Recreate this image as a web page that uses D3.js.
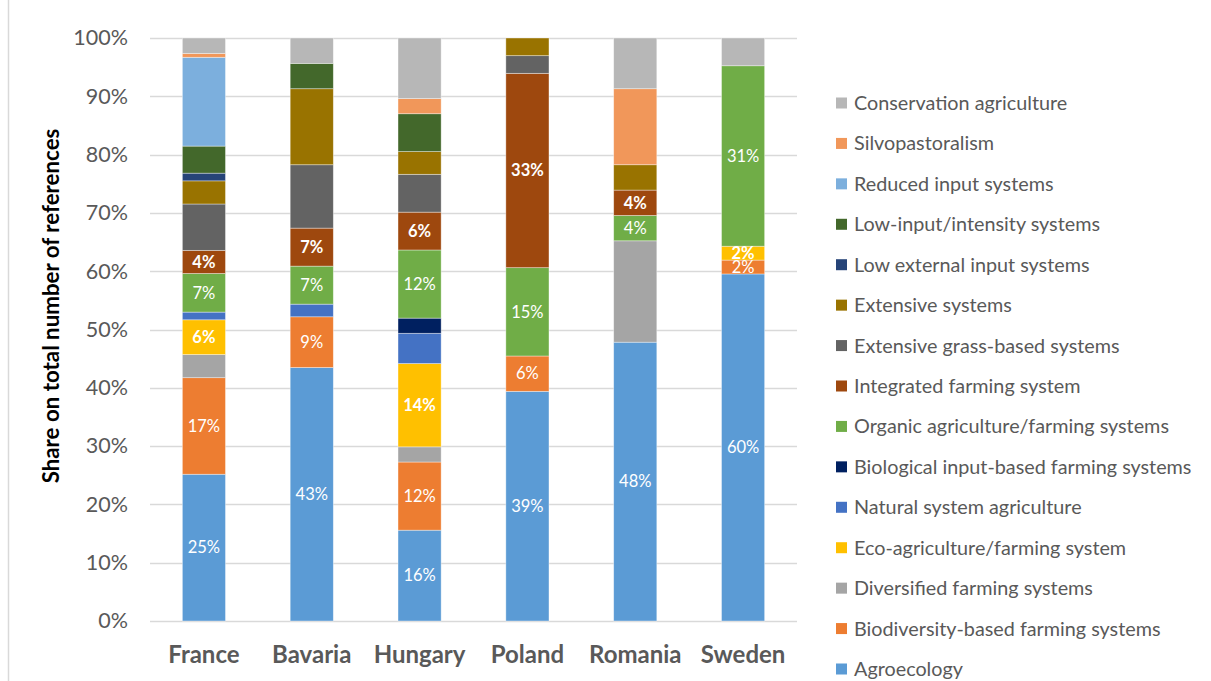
<!DOCTYPE html>
<html><head><meta charset="utf-8">
<script src="https://cdn.jsdelivr.net/npm/d3@7"></script>
<style>body{margin:0;background:#fff}svg{display:block}</style>
</head><body><svg id="c" width="1211" height="681"></svg>
<script>
// ---- data (share of references, %) ----
const categories = ["France", "Bavaria", "Hungary", "Poland", "Romania", "Sweden"];
const seriesNames = [
  "Agroecology", "Biodiversity-based farming systems", "Diversified farming systems",
  "Eco-agriculture/farming system", "Natural system agriculture", "Biological input-based farming systems",
  "Organic agriculture/farming systems", "Integrated farming system", "Extensive grass-based systems",
  "Extensive systems", "Low external input systems", "Low-input/intensity systems",
  "Reduced input systems", "Silvopastoralism", "Conservation agriculture"
];
const agroecology       = [25.17, 43.48, 15.58, 39.39, 47.83, 59.52];
const biodiversityBased = [16.56,  8.70, 11.69,  6.06,  0,     2.38];
const diversified       = [ 3.97,  0,     2.60,  0,    17.39,  0];
const ecoAgriculture    = [ 5.96,  0,    14.29,  0,     0,     2.38];
const naturalSystem     = [ 1.32,  2.17,  5.19,  0,     0,     0];
const biologicalInput   = [ 0,     0,     2.60,  0,     0,     0];
const organic           = [ 6.62,  6.52, 11.69, 15.15,  4.35, 30.95];
const integrated        = [ 3.97,  6.52,  6.49, 33.33,  4.35,  0];
const extensiveGrass    = [ 7.95, 10.87,  6.49,  3.03,  0,     0];
const extensive         = [ 3.97, 13.04,  3.90,  3.03,  4.35,  0];
const lowExternal       = [ 1.32,  0,     0,     0,     0,     0];
const lowInput          = [ 4.64,  4.35,  6.49,  0,     0,     0];
const reducedInput      = [15.23,  0,     0,     0,     0,     0];
const silvopastoralism  = [ 0.66,  0,     2.60,  0,    13.04,  0];
const conservation      = [ 2.65,  4.35, 10.39,  0,     8.70,  4.76];
const yTicks = [0, 0.1, 0.2, 0.3, 0.4, 0.5, 0.6, 0.7, 0.8, 0.9, 1];

const seriesValues = [agroecology, biodiversityBased, diversified, ecoAgriculture, naturalSystem,
  biologicalInput, organic, integrated, extensiveGrass, extensive, lowExternal, lowInput,
  reducedInput, silvopastoralism, conservation];
const colors = ["#5B9BD5", "#ED7D31", "#A5A5A5", "#FFC000", "#4472C4", "#002060", "#70AD47",
  "#9E480E", "#636363", "#997300", "#264478", "#43682B", "#7CAFDD", "#F1975A", "#B7B7B7"];
const labelled = {"Agroecology": false, "Biodiversity-based farming systems": false,
  "Organic agriculture/farming systems": false, "Eco-agriculture/farming system": true,
  "Integrated farming system": true};

const table = categories.map((c, i) => {
  const row = {category: c};
  seriesNames.forEach((s, j) => row[s] = seriesValues[j][i]);
  return row;
});

const svg = d3.select("#c");
const FONT = "Lato, 'Open Sans', sans-serif";
const x = d3.scaleBand().domain(categories).range([150, 797]).paddingInner(0.6).paddingOuter(0.3);
const y = d3.scaleLinear().domain([0, 1]).range([621, 38]);
const color = d3.scaleOrdinal().domain(seriesNames).range(colors);

// chart border
svg.append("line").attr("x1", 8.5).attr("x2", 8.5).attr("y1", 0).attr("y2", 681)
  .attr("stroke", "#d9d9d9").attr("stroke-width", 1.5);

// gridlines
svg.append("g").selectAll("line").data(yTicks).join("line")
  .attr("x1", 150).attr("x2", 797)
  .attr("y1", d => Math.round(y(d)) + 0.5).attr("y2", d => Math.round(y(d)) + 0.5)
  .attr("stroke", "#d9d9d9").attr("stroke-width", 1.5);

// y axis labels
const yAxis = svg.append("g").attr("transform", "translate(150,0)")
  .call(d3.axisLeft(y).tickValues(yTicks).tickFormat(d3.format(".0%")).tickSize(0).tickPadding(22));
yAxis.select(".domain").remove();
yAxis.selectAll("text").attr("font-family", FONT).attr("font-size", 21.5).attr("fill", "#595959");

// x axis labels
const xAxis = svg.append("g").attr("transform", "translate(0,621)")
  .call(d3.axisBottom(x).tickSize(0).tickPadding(25));
xAxis.select(".domain").remove();
xAxis.selectAll("text").attr("font-family", FONT).attr("font-size", 24)
  .attr("font-weight", "bold").attr("fill", "#595959");

// y title
svg.append("text").attr("transform", "translate(59,306) rotate(-90)")
  .attr("text-anchor", "middle").attr("font-family", FONT).attr("font-size", 22.3)
  .attr("font-weight", "bold").attr("fill", "#000").text("Share on total number of references");

// stacked bars
const stack = d3.stack().keys(seriesNames).offset(d3.stackOffsetExpand);
const layers = stack(table);
const g = svg.append("g");
layers.forEach(layer => {
  g.append("g").attr("fill", color(layer.key)).selectAll("rect")
    .data(layer.filter(d => d[1] - d[0] > 0)).join("rect")
    .attr("x", d => x(d.data.category)).attr("width", x.bandwidth())
    .attr("y", d => y(d[1])).attr("height", d => y(d[0]) - y(d[1]))
    .attr("stroke", "#ffffff").attr("stroke-opacity", 0.5).attr("stroke-width", 0.75);
});

// data labels
layers.filter(l => l.key in labelled).forEach(layer => {
  g.append("g").selectAll("text")
    .data(layer.filter(d => d[1] - d[0] > 0)).join("text")
    .attr("x", d => x(d.data.category) + x.bandwidth() / 2)
    .attr("y", d => (y(d[0]) + y(d[1])) / 2)
    .attr("dy", "0.35em").attr("text-anchor", "middle")
    .attr("font-family", FONT).attr("font-size", 16.5)
    .attr("font-weight", labelled[layer.key] ? "bold" : "normal")
    .attr("fill", "#fff")
    .text(d => d3.format(".0%")(d[1] - d[0]));
});

// legend (reverse order)
const legendItems = seriesNames.slice().reverse();
const ly = d3.scalePoint().domain(legendItems).range([103, 669]);
const lg = svg.append("g").selectAll("g").data(legendItems).join("g")
  .attr("transform", d => `translate(836,${ly(d)})`);
lg.append("rect").attr("x", 0).attr("y", -5.5).attr("width", 11).attr("height", 11)
  .attr("fill", d => color(d));
lg.append("text").attr("x", 18).attr("dy", "0.35em").attr("font-family", FONT)
  .attr("font-size", 19.8).attr("fill", "#595959").text(d => d);
</script></body></html>
